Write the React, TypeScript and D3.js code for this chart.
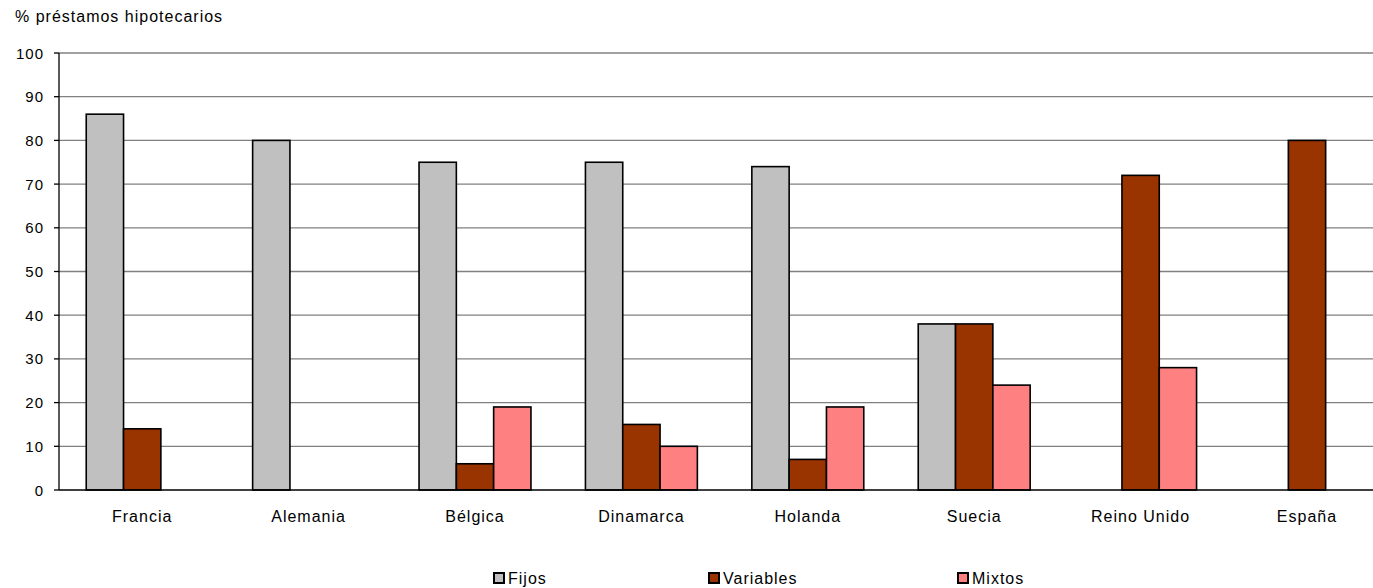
import React from "react";
import * as d3 from "d3";

const categories = ["Francia", "Alemania", "Bélgica", "Dinamarca", "Holanda", "Suecia", "Reino Unido", "España"];
const seriesNames = ["Fijos", "Variables", "Mixtos"];
const fijos = [86, 80, 75, 75, 74, 38, 0, 0];
const variables = [14, 0, 6, 15, 7, 38, 72, 80];
const mixtos = [0, 0, 19, 10, 19, 24, 28, 0];
const yTicks = [0, 10, 20, 30, 40, 50, 60, 70, 80, 90, 100];
const colors = ["#C0C0C0", "#993300", "#FF8080"];

const W = 1373, H = 588;
const left = 59, top = 53, bottom = 490, plotRight = 59 + 8 * 166.4;
const FONT = "'Liberation Sans', Arial, sans-serif";

export default function App() {
  const series = [fijos, variables, mixtos];
  const x = d3.scaleBand<string>().domain(categories).range([left, plotRight]).paddingInner(0).paddingOuter(0);
  const y = d3.scaleLinear().domain([0, 100]).range([bottom, top]);
  const bw = x.bandwidth();
  const barW = bw / 4.46;
  const groupW = barW * 3;
  const legendX = [493, 708, 957];

  return (
    <svg width={W} height={H} style={{ position: "absolute", left: 0, top: 0, background: "#fff" }} fontFamily={FONT}>
      <text x={15} y={22} fontSize={16} letterSpacing={1} fill="#000">% préstamos hipotecarios</text>
      {yTicks.map((t) => (
        <g key={t}>
          {t > 0 && <line x1={left} x2={W} y1={y(t)} y2={y(t)} stroke="#808080" strokeWidth={1.3} />}
          <line x1={left - 5} x2={left} y1={y(t)} y2={y(t)} stroke="#000" strokeWidth={1.3} />
          <text x={44} y={y(t) + 5.5} fontSize={15} letterSpacing={1} textAnchor="end" fill="#000">{t}</text>
        </g>
      ))}
      {categories.map((c, i) => {
        const gx = (x(c) as number) + (bw - groupW) / 2;
        return (
          <g key={c}>
            {series.map((s, k) =>
              s[i] > 0 ? (
                <rect key={k} x={gx + k * barW} y={y(s[i])} width={barW} height={bottom - y(s[i])}
                  fill={colors[k]} stroke="#000" strokeWidth={1.6} />
              ) : null
            )}
            <text x={(x(c) as number) + bw / 2} y={522} fontSize={16} letterSpacing={1} textAnchor="middle" fill="#000">{c}</text>
          </g>
        );
      })}
      <line x1={left} x2={left} y1={top} y2={bottom} stroke="#000" strokeWidth={1.3} />
      <line x1={left} x2={W} y1={bottom} y2={bottom} stroke="#000" strokeWidth={1.3} />
      {seriesNames.map((n, k) => (
        <g key={n}>
          <rect x={legendX[k] + 1} y={573} width={10} height={10} fill={colors[k]} stroke="#000" strokeWidth={2} />
          <text x={legendX[k] + 15} y={584} fontSize={16} letterSpacing={1} fill="#000">{n}</text>
        </g>
      ))}
    </svg>
  );
}
